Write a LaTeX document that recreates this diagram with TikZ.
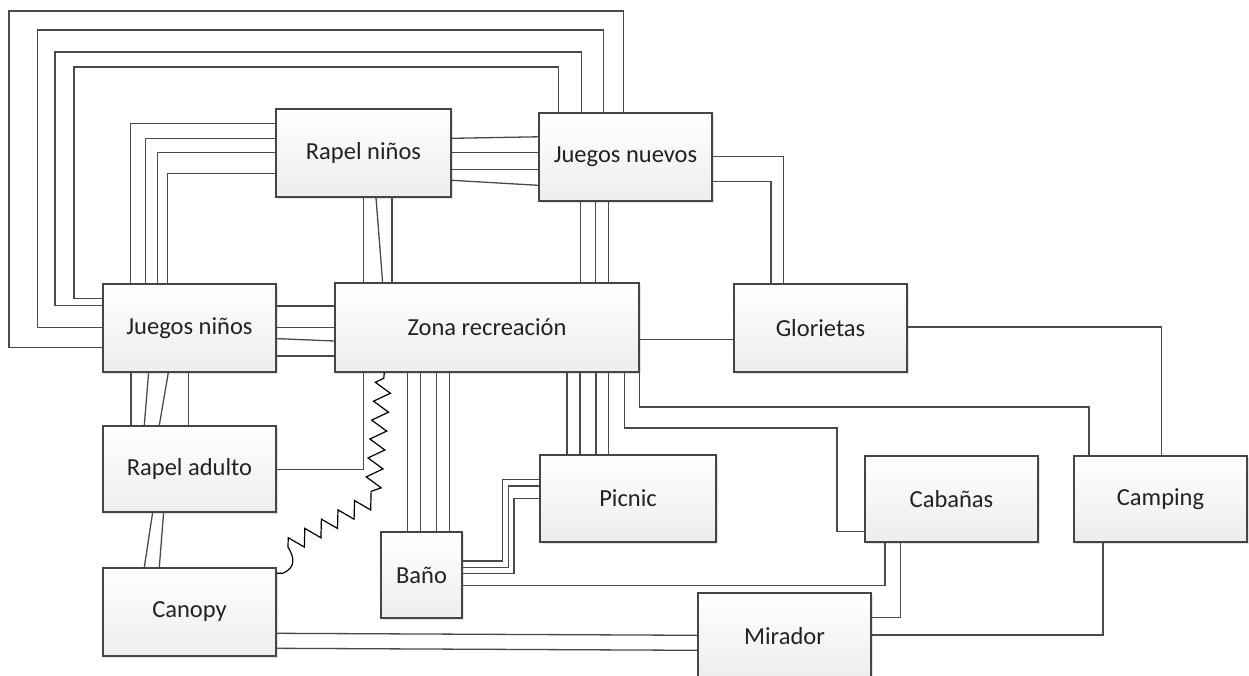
\documentclass[tikz,border=0pt]{standalone}
\usepackage{fontspec}
\setmainfont{Carlito}
\usetikzlibrary{calc,shadows,decorations.pathmorphing}
\definecolor{edge}{HTML}{454545}
\definecolor{wire}{HTML}{4A4A4A}
\definecolor{txt}{HTML}{222222}
\tikzset{
  box/.style={draw=edge, line width=1.4pt, top color=white, bottom color=black!7,
    drop shadow={shadow xshift=2pt, shadow yshift=-2pt, fill=black!18, opacity=0.6},
    text=txt, font=\fontsize{24.5}{28}\selectfont, inner sep=0pt},
  wire/.style={draw=wire, line width=1.3pt},
  squig/.style={draw=black, line width=1.2pt,
    decoration={zigzag, amplitude=8pt, segment length=19pt}}
}
\begin{document}
\begin{tikzpicture}[x=1pt,y=-1pt]
\clip (0,0) rectangle (1249,675);
\fill[white] (0,0) rectangle (1249,675);
% boxes
\node[box, minimum width=173pt, minimum height=88pt] (jn)  at (189.5,328)   {Juegos niños};
\node[box, minimum width=175pt, minimum height=88pt] (rn)  at (363.5,153)   {Rapel niños};
\node[box, minimum width=173pt, minimum height=88pt] (jnv) at (625.5,157)   {Juegos nuevos};
\node[box, minimum width=304pt, minimum height=89pt] (zr)  at (487,327.5)   {Zona recreación};
\node[box, minimum width=173pt, minimum height=88pt] (gl)  at (820.5,328)   {Glorietas};
\node[box, minimum width=173pt, minimum height=86pt] (ra)  at (189.5,469)   {Rapel adulto};
\node[box, minimum width=173pt, minimum height=88pt] (ca)  at (189.5,612)   {Canopy};
\node[box, minimum width=81pt,  minimum height=86pt] (ba)  at (421.5,575)   {Baño};
\node[box, minimum width=176pt, minimum height=87pt] (pi)  at (628,498.5)   {Picnic};
\node[box, minimum width=173pt, minimum height=86pt] (cb)  at (951.5,499)   {Cabañas};
\node[box, minimum width=173pt, minimum height=86pt] (cp)  at (1160.5,499)  {Camping};
\node[box, minimum width=173pt, minimum height=86pt] (mi)  at (784.5,636)   {Mirador};

% Juegos niños -- Juegos nuevos (outer loops)
\draw[wire] ($(jn.north west)+(0,15)$) -| (74,67)   -| ($(jnv.north west)+(20,0)$);
\draw[wire] ($(jn.north west)+(0,22)$) -| (55,52)   -| ($(jnv.north west)+(43,0)$);
\draw[wire] ($(jn.north west)+(0,44)$) -| (37.5,30) -| ($(jnv.north west)+(65,0)$);
\draw[wire] ($(jn.north west)+(0,64)$) -| (9,11)    -| ($(jnv.north west)+(85.5,0)$);

% Rapel niños -- Juegos niños
\draw[wire] ($(rn.north west)+(0,15)$) -| ($(jn.north west)+(28,0)$);
\draw[wire] ($(rn.north west)+(0,30)$) -| ($(jn.north west)+(43,0)$);
\draw[wire] ($(rn.north west)+(0,44)$) -| ($(jn.north west)+(55,0)$);
\draw[wire] ($(rn.north west)+(0,65)$) -| ($(jn.north west)+(65,0)$);

% Rapel niños -- Juegos nuevos
\draw[wire] ($(rn.north east)+(0,30)$) -- ($(jnv.north west)+(0,24.5)$);
\draw[wire] ($(rn.north east)+(0,44)$) -- ($(jnv.north west)+(0,40)$);
\draw[wire] ($(rn.north east)+(0,61)$) -- ($(jnv.north west)+(0,57)$);
\draw[wire] ($(rn.north east)+(0,72)$) -- ($(jnv.north west)+(0,73)$);

% Rapel niños -- Zona recreación
\draw[wire] ($(rn.south west)+(88,0)$)    -- ($(zr.north west)+(29,0)$);
\draw[wire] ($(rn.south west)+(100.7,0)$) -- ($(zr.north west)+(48.3,0)$);
\draw[wire] ($(rn.south west)+(116.7,0)$) -- ($(zr.north west)+(57.7,0)$);

% Juegos nuevos -- Zona recreación
\draw[wire] ($(jnv.south west)+(42,0)$) -- ($(zr.north west)+(246,0)$);
\draw[wire] ($(jnv.south west)+(57,0)$) -- ($(zr.north west)+(261,0)$);
\draw[wire] ($(jnv.south west)+(70,0)$) -- ($(zr.north west)+(274,0)$);

% Juegos nuevos -- Glorietas
\draw[wire] ($(jnv.north east)+(0,44)$) -| ($(gl.north west)+(50,0)$);
\draw[wire] ($(jnv.north east)+(0,69)$) -| ($(gl.north west)+(37.7,0)$);

% Zona -- Glorietas
\draw[wire] ($(zr.north east)+(0,57)$) -- ($(gl.north west)+(0,56)$);

% Glorietas -- Camping
\draw[wire] ($(gl.north east)+(0,43.7)$) -| ($(cp.north west)+(88,0)$);

% Juegos niños -- Zona
\draw[wire] ($(jn.north east)+(0,22.7)$) -- ($(zr.north west)+(0,23.7)$);
\draw[wire] ($(jn.north east)+(0,44.3)$) -- ($(zr.north west)+(0,45.3)$);
\draw[wire] ($(jn.north east)+(0,55.3)$) -- ($(zr.north west)+(0,58.7)$);
\draw[wire] ($(jn.north east)+(0,72.7)$) -- ($(zr.north west)+(0,73.7)$);

% Juegos niños -- Rapel adulto
\draw[wire] ($(jn.south west)+(28.7,0)$) -- ($(ra.north west)+(28.7,0)$);
\draw[wire] ($(jn.south west)+(46.3,0)$) -- ($(ra.north west)+(42,0)$);
\draw[wire] ($(jn.south west)+(66,0)$)   -- ($(ra.north west)+(57,0)$);
\draw[wire] ($(jn.south west)+(86.3,0)$) -- ($(ra.north west)+(86.3,0)$);

% Rapel adulto -- Zona
\draw[wire] ($(ra.north east)+(0,44)$) -| ($(zr.south west)+(29,0)$);

% Rapel adulto -- Canopy
\draw[wire] ($(ra.south west)+(50.3,0)$) -- ($(ca.north west)+(42,0)$);
\draw[wire] ($(ra.south west)+(61.3,0)$) -- ($(ca.north west)+(57,0)$);

% Canopy -- Zona (squiggle)
\draw[squig] ($(ca.north east)+(0,6)$) -- ++(6,0)
   .. controls +(14,-6) and +(6,10) .. (288,547)
   decorate { -- (372,500) -- ($(zr.south west)+(50,0)$) };

% Zona -- Baño
\draw[wire] ($(zr.south west)+(73.3,0)$)  -- ($(ba.north west)+(27.3,0)$);
\draw[wire] ($(zr.south west)+(86,0)$)    -- ($(ba.north west)+(40,0)$);
\draw[wire] ($(zr.south west)+(102.3,0)$) -- ($(ba.north west)+(56.3,0)$);
\draw[wire] ($(zr.south west)+(115,0)$)   -- ($(ba.north west)+(69,0)$);

% Zona -- Picnic
\draw[wire] ($(zr.south west)+(232.7,0)$) -- ($(pi.north west)+(27.7,0)$);
\draw[wire] ($(zr.south west)+(245.7,0)$) -- ($(pi.north west)+(40.7,0)$);
\draw[wire] ($(zr.south west)+(261.7,0)$) -- ($(pi.north west)+(56.7,0)$);
\draw[wire] ($(zr.south west)+(274.3,0)$) -- ($(pi.north west)+(69.3,0)$);

% Zona -- Cabañas
\draw[wire] ($(zr.south west)+(290,0)$) |- (837,428) |- ($(cb.north west)+(0,76)$);

% Zona -- Camping
\draw[wire] (zr.south east) |- (900,407) -| ($(cp.north west)+(15.6,0)$);

% Baño -- Picnic
\draw[wire] ($(ba.north east)+(0,29.7)$) -| (502.3,520) |- ($(pi.north west)+(0,25)$);
\draw[wire] ($(ba.north east)+(0,36.3)$) -| (508.3,520) |- ($(pi.north west)+(0,31.7)$);
\draw[wire] ($(ba.north east)+(0,42.3)$) -| (514,520)   |- ($(pi.north west)+(0,44.3)$);

% Baño -- Cabañas
\draw[wire] ($(ba.north east)+(0,54)$) -| ($(cb.south west)+(20.6,0)$);

% Cabañas -- Mirador
\draw[wire] ($(cb.south west)+(36.3,0)$) |- ($(mi.north east)+(0,25.3)$);

% Camping -- Mirador
\draw[wire] ($(cp.south west)+(29.7,0)$) |- ($(mi.north east)+(0,42.7)$);

% Canopy -- Mirador
\draw[wire] ($(ca.north east)+(0,66)$) -- ($(mi.north west)+(0,43)$);
\draw[wire] ($(ca.north east)+(0,81)$) -- ($(mi.north west)+(0,58)$);
\end{tikzpicture}
\end{document}
